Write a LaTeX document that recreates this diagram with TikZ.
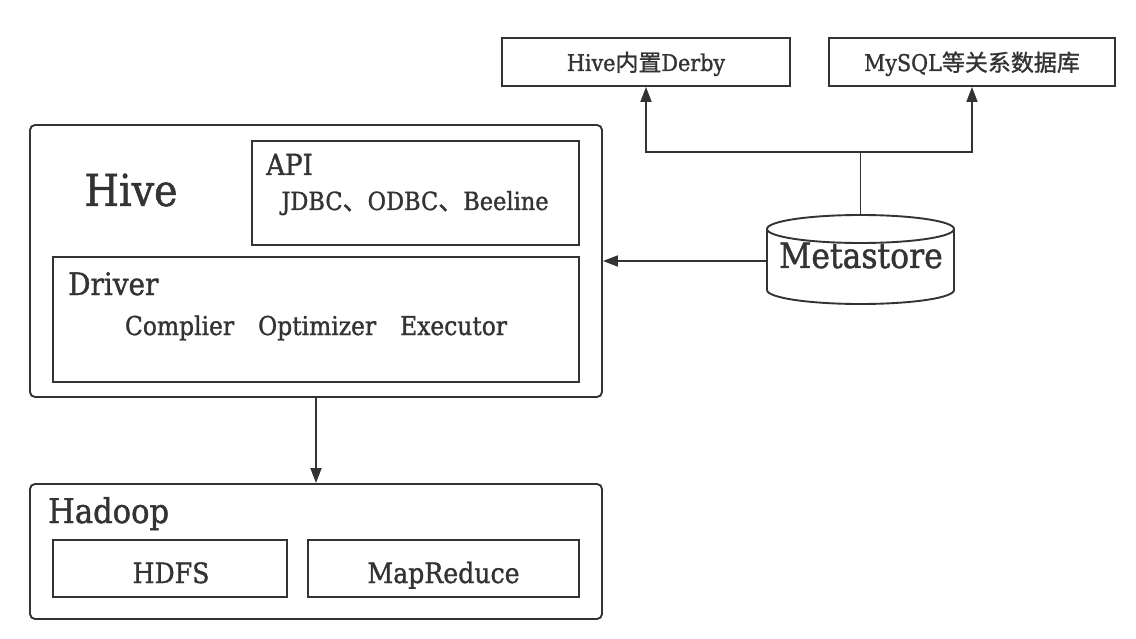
\documentclass[tikz,border=0pt]{standalone}
\usepackage{fontspec}
\setmainfont{DejaVu Serif Condensed}[FakeBold=1.2]
\newfontfamily\cjk{Noto Sans CJK SC}[FakeBold=1.2]
\usetikzlibrary{arrows.meta}
\newlength{\du}
\setlength{\du}{1pt}
\definecolor{dialinecolor}{rgb}{0.200000, 0.200000, 0.200000}
\tikzset{
  box/.style={draw=dialinecolor, line width=1.9\du, minimum width=#1, inner sep=0pt},
  outerbox/.style={box=#1, rounded corners=5\du},
  caption/.style={text=dialinecolor, inner sep=0pt},
  link/.style={draw=dialinecolor, line width=1.9\du},
  arrowlink/.style={link, -{Triangle[length=15pt,width=11pt]}}
}
\begin{document}
\begin{tikzpicture}
\pgftransformxscale{1.000000}
\pgftransformyscale{-1.000000}
\useasboundingbox (0\du,0\du) rectangle (1136\du,639\du);
% Hive
\node[outerbox=572\du, minimum height=272\du] (hive) at (316.000000\du,261.000000\du){};
\node[box=327\du, minimum height=104\du] (api) at (415.500000\du,193.000000\du){};
\node[box=526\du, minimum height=125\du] (driver) at (316.000000\du,319.500000\du){};
\node[caption, font=\fontsize{44}{48}\selectfont] (hivetext) at (131.000000\du,190.000000\du){Hive};
\node[caption, anchor=base west, font=\fontsize{29}{32}\selectfont] (apitext) at (266.000000\du,175.000000\du){API};
\node[caption, anchor=base, font=\fontsize{25}{28}\selectfont] (apilist) at (415.000000\du,210.000000\du){JDBC{\cjk 、}ODBC{\cjk 、}Beeline};
\node[caption, anchor=base west, font=\fontsize{31}{34}\selectfont] (drivertext) at (68.000000\du,295.000000\du){Driver};
\node[caption, anchor=base, font=\fontsize{26}{30}\selectfont] (driverlist) at (316.000000\du,335.000000\du){Complier\hspace{24\du}Optimizer\hspace{24\du}Executor};
% Hadoop
\node[outerbox=572\du, minimum height=135\du] (hadoop) at (316.000000\du,551.500000\du){};
\node[caption, anchor=base west, font=\fontsize{34}{38}\selectfont] (hadooptext) at (48.000000\du,523.000000\du){Hadoop};
\node[box=234\du, minimum height=57\du] (hdfs) at (170.000000\du,568.500000\du){};
\node[box=271\du, minimum height=57\du] (mapreduce) at (443.500000\du,568.500000\du){};
\node[caption, anchor=base, font=\fontsize{28}{32}\selectfont] (hdfstext) at (171.000000\du,583.000000\du){HDFS};
\node[caption, anchor=base, font=\fontsize{28}{32}\selectfont] (mapreducetext) at (443.500000\du,583.000000\du){MapReduce};
% Metastore
\node[minimum width=187\du, minimum height=89\du, inner sep=0pt] (metastore) at (860.500000\du,259.500000\du){};
\draw[link] (767.000000\du,229.000000\du)--(767.000000\du,290.000000\du) arc[start angle=180, end angle=0, x radius=93.5\du, y radius=14\du]--(954.000000\du,229.000000\du);
\draw[link] (860.500000\du,229.000000\du) ellipse[x radius=93.5\du, y radius=14\du];
\node[caption, anchor=base, font=\fontsize{35}{38}\selectfont] (metastoretext) at (861.000000\du,268.000000\du){Metastore};
\node[box=288\du, minimum height=48\du] (derby) at (646.000000\du,62.000000\du){};
\node[box=286\du, minimum height=48\du] (mysql) at (972.000000\du,62.000000\du){};
\node[caption, anchor=base, font=\fontsize{23}{26}\selectfont] (derbytext) at (646.000000\du,71.000000\du){Hive{\cjk 内置}Derby};
\node[caption, anchor=base, font=\fontsize{23}{26}\selectfont] (mysqltext) at (972.000000\du,71.000000\du){MySQL{\cjk 等关系数据库}};
\coordinate (split) at (860.500000\du,152.000000\du);
% connectors
\draw[arrowlink] (hive.south) -- (hadoop.north);
\draw[arrowlink] (metastore.west |- 0,261\du) -- (hive.east |- 0,261\du);
\draw[link] (metastore.north) -- (split);
\draw[arrowlink] (split) -| (derby.south);
\draw[arrowlink] (split) -| (mysql.south);
\end{tikzpicture}
\end{document}
